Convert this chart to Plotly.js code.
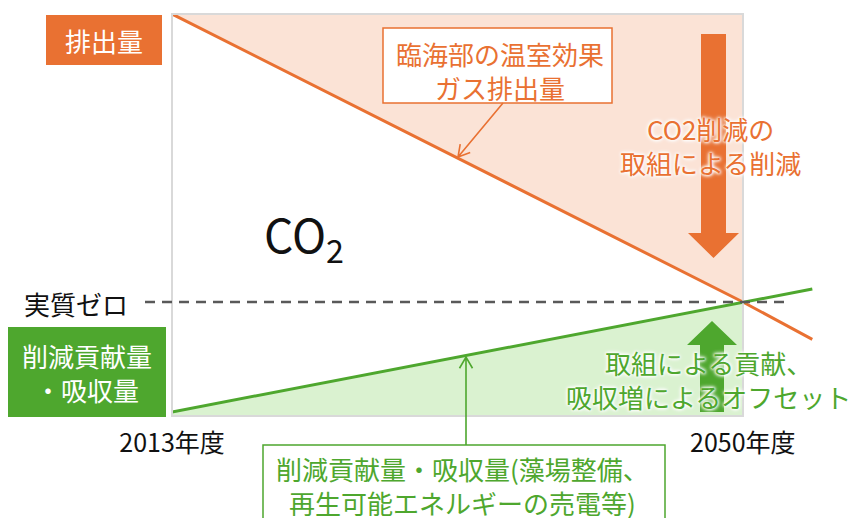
<!DOCTYPE html>
<html><head><meta charset="utf-8">
<script src="https://cdn.plot.ly/plotly-3.0.1.min.js"></script>
<style>html,body{margin:0;padding:0;background:#fff;}#chart{width:855px;height:518px;}</style>
</head><body><div id="chart"></div>
<script>
// ---- data ----
const years = [2013, 2050, 2054.5];
const emissions = [100, 0, -13];     // 臨海部の温室効果ガス排出量
const offsets = [-38.2, 0, 4.5];     // 削減貢献量・吸収量
const tickYears = [2013, 2050];
const tickLabels = ['2013年度', '2050年度'];

// ---- layout constants ----
const W = 855, H = 518;
const M = {l: 172, r: 35, t: 14, b: 102};
const xRange = [2013, 2055];
const yRange = [-39.6, 100];
const FONT = '"Noto Sans CJK JP", "Noto Sans", sans-serif';
const ORANGE = '#E97132', GREEN = '#4EA72E', PINK = '#FBE3D6', LGREEN = '#DAF2D0';
const GLOW = '0 0 3px #fff, 0 0 3px #fff, 0 0 4px #fff, 0 0 5px #fff';

const plotW = W - M.l - M.r, plotH = H - M.t - M.b;
const PX = px => (px - M.l) / plotW;
const PY = py => (H - M.b - py) / plotH;
const yPaper = v => (v - yRange[0]) / (yRange[1] - yRange[0]);

const x2 = years.slice(0, 2);
const traces = [
  {x: x2, y: emissions.slice(0, 2), mode: 'lines', line: {width: 0}, hoverinfo: 'skip'},
  {x: x2, y: [emissions[0], emissions[0]], mode: 'lines', line: {width: 0}, fill: 'tonexty', fillcolor: PINK, hoverinfo: 'skip'},
  {x: x2, y: [yRange[0], yRange[0]], mode: 'lines', line: {width: 0}, hoverinfo: 'skip'},
  {x: x2, y: offsets.slice(0, 2), mode: 'lines', line: {width: 0}, fill: 'tonexty', fillcolor: LGREEN, hoverinfo: 'skip'},
  {x: years, y: emissions, mode: 'lines', line: {color: ORANGE, width: 3}, hoverinfo: 'skip'},
  {x: years, y: offsets, mode: 'lines', line: {color: GREEN, width: 3}, hoverinfo: 'skip'}
];

function rect(x0, y0, x1, y1, fill, line, lw) {
  return {type: 'rect', xref: 'paper', yref: 'paper', x0: PX(x0), x1: PX(x1), y0: PY(y1), y1: PY(y0),
    fillcolor: fill, line: {color: line || 'rgba(0,0,0,0)', width: lw || 0}, layer: 'above'};
}
function poly(pts, fill) {
  const d = pts.map((p, i) => (i ? 'L' : 'M') + PX(p[0]) + ',' + PY(p[1])).join(' ') + ' Z';
  return {type: 'path', xref: 'paper', yref: 'paper', path: d, fillcolor: fill, line: {width: 0}, layer: 'above'};
}
// thin pointer with an open chevron head, given tail and tip in pixels
function pointer(tx, ty, hx, hy, color) {
  const dx = hx - tx, dy = hy - ty, len = Math.hypot(dx, dy);
  const ux = dx / len, uy = dy / len, a = Math.PI / 6, L = 13;
  const arm = s => [hx - L * (ux * Math.cos(a) - s * uy * Math.sin(a)), hy - L * (uy * Math.cos(a) + s * ux * Math.sin(a))];
  const p1 = arm(1), p2 = arm(-1);
  const d = 'M' + PX(tx) + ',' + PY(ty) + ' L' + PX(hx) + ',' + PY(hy) +
            ' M' + PX(p1[0]) + ',' + PY(p1[1]) + ' L' + PX(hx) + ',' + PY(hy) + ' L' + PX(p2[0]) + ',' + PY(p2[1]);
  return {type: 'path', xref: 'paper', yref: 'paper', path: d, line: {color: color, width: 1.6}, layer: 'above'};
}

const shapes = [
  rect(172, 14, 743, 416, 'rgba(0,0,0,0)', '#D9D9D9', 2),
  {type: 'line', xref: 'paper', yref: 'paper', x0: PX(145), x1: PX(786), y0: yPaper(0), y1: yPaper(0),
   line: {color: '#595959', width: 2.5, dash: '10px,7px'}, layer: 'above'},
  rect(46, 15, 162, 65, ORANGE),
  rect(8, 327, 166, 417, GREEN),
  rect(383, 28, 612, 103, '#fff', ORANGE, 1.5),
  rect(263, 445, 665, 545, '#fff', GREEN, 1.5),
  poly([[701, 34], [726, 34], [726, 233], [739, 233], [713.5, 258], [688, 233], [701, 233]], ORANGE),
  poly([[700, 412], [724, 412], [724, 345], [737, 345], [712, 321], [687, 345], [700, 345]], GREEN),
  pointer(503, 103, 458, 157, ORANGE),
  pointer(466, 445, 466, 357, GREEN)
];

function txt(text, cx, cy, color, size, glow) {
  const font = {family: FONT, size: size || 26, color: color};
  if (glow) font.shadow = GLOW;
  return {text: text, xref: 'paper', yref: 'paper', x: PX(cx), y: PY(cy),
    xanchor: 'center', yanchor: 'middle', showarrow: false, align: 'center', font: font};
}

const annotations = [
  txt('排出量', 104, 40, '#fff'),
  txt('削減貢献量<br>・吸収量', 87, 372, '#fff'),
  txt('実質ゼロ', 76, 303, '#111'),
  txt('臨海部の温室効果<br>ガス排出量', 500, 71, ORANGE),
  txt('CO2削減の<br>取組による削減', 710, 146, ORANGE, 26, true),
  txt('取組による貢献、<br>吸収増によるオフセット', 708, 379, GREEN, 26, true),
  txt('削減貢献量・吸収量(藻場整備、<br>再生可能エネルギーの売電等)', 462, 485, GREEN),
  txt('CO<sub>2</sub>', 304, 236, '#111', 46)
];

const layout = {
  width: W, height: H, margin: M, paper_bgcolor: '#fff', plot_bgcolor: '#fff', showlegend: false,
  xaxis: {range: xRange, showgrid: false, zeroline: false, showline: false, ticks: '',
    tickvals: tickYears, ticktext: tickLabels, tickfont: {family: FONT, size: 25, color: '#111'},
    ticklabelstandoff: 10, fixedrange: true, automargin: false},
  yaxis: {range: yRange, showgrid: false, zeroline: false, showline: false, showticklabels: false,
    ticks: '', fixedrange: true, automargin: false},
  shapes: shapes, annotations: annotations, font: {family: FONT}
};

Plotly.newPlot('chart', traces, layout, {staticPlot: true, displayModeBar: false});
</script></body></html>
